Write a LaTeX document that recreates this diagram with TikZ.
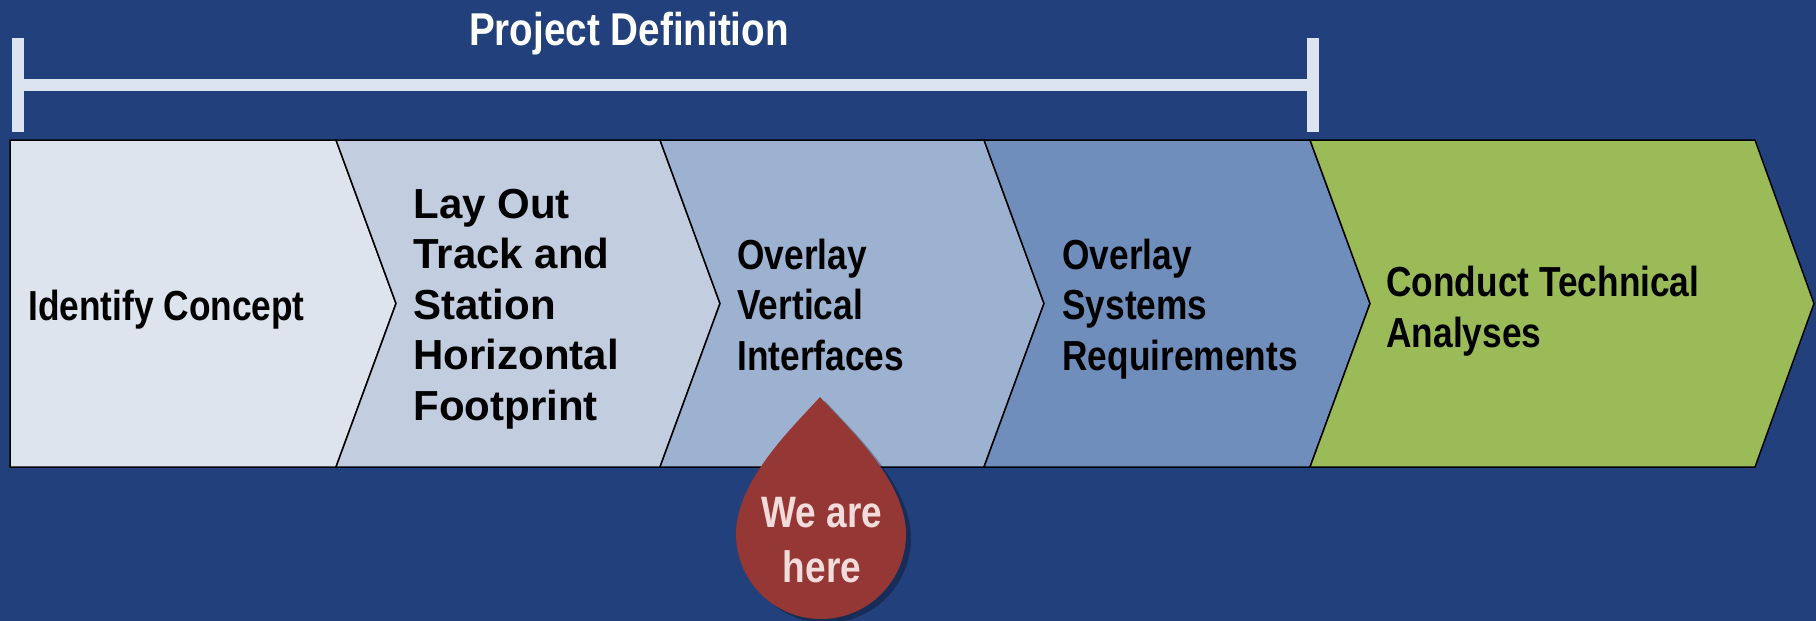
\documentclass[tikz,border=0pt]{standalone}
\usepackage{fontspec}
\setmainfont{Liberation Sans}[FakeStretch=0.84]
\newfontfamily\widesans{Liberation Sans}
\usetikzlibrary{shadows}
\definecolor{bg}{RGB}{34,64,124}
\definecolor{barc}{RGB}{220,228,240}
\definecolor{cA}{RGB}{221,228,238}
\definecolor{cB}{RGB}{194,205,224}
\definecolor{cC}{RGB}{157,177,208}
\definecolor{cD}{RGB}{111,142,187}
\definecolor{cE}{RGB}{155,187,89}
\definecolor{dropc}{RGB}{149,55,53}
\definecolor{droptxt}{RGB}{242,220,219}
\begin{document}
\begin{tikzpicture}[x=0.5pt,y=-0.5pt,
  chev/.style={draw=black, line width=0.75pt, line join=miter},
  lbl/.style={font=\bfseries\fontsize{21}{25.25}\selectfont, text=black, align=left, inner sep=0pt},
  widelbl/.style={lbl, font=\widesans\bfseries\fontsize{21}{25.25}\selectfont},
  barpart/.style={fill=barc}]
\fill[bg] (0,0) rectangle (1816,621);
\useasboundingbox (0,0) rectangle (1816,621);
% bracket
\fill[barpart] (12,38) rectangle (24,132);
\fill[barpart] (1307,38) rectangle (1319,132);
\fill[barpart] (24,79) rectangle (1307,91);
\node[font=\bfseries\fontsize{23}{28}\selectfont, text=white, anchor=base, inner sep=0pt] (title) at (629,45) {Project Definition};
% chevrons
\draw[chev, fill=cA] (10,140) -- (336,140) -- (396,303.5) -- (336,467) -- (10,467) -- cycle;
\draw[chev, fill=cB] (336,140) -- (660,140) -- (720,303.5) -- (660,467) -- (336,467) -- (396,303.5) -- cycle;
\draw[chev, fill=cC] (660,140) -- (984,140) -- (1044,303.5) -- (984,467) -- (660,467) -- (720,303.5) -- cycle;
\draw[chev, fill=cD] (984,140) -- (1310,140) -- (1370,303.5) -- (1310,467) -- (984,467) -- (1044,303.5) -- cycle;
\draw[chev, fill=cE] (1310,140) -- (1755,140) -- (1814,303.5) -- (1755,467) -- (1310,467) -- (1370,303.5) -- cycle;
% labels (base anchor = baseline of last line)
\node[lbl, anchor=base west] (s1) at (28,320) {Identify Concept};
\node[widelbl, anchor=base west] (s2) at (413,420) {Lay Out\\Track and\\Station\\Horizontal\\Footprint};
\node[lbl, anchor=base west] (s3) at (737,370) {Overlay\\Vertical\\Interfaces};
\node[lbl, anchor=base west] (s4) at (1062,370) {Overlay\\Systems\\Requirements};
\node[lbl, anchor=base west] (s5) at (1386,347) {Conduct Technical\\Analyses};
% teardrop marker
\fill[dropc, drop shadow={shadow xshift=2.5pt, shadow yshift=-2pt, opacity=0.3, fill=black}]
  (820,397) .. controls (795,425) and (736,480) .. (736,534)
  arc[start angle=180, end angle=360, radius=42.5pt]
  .. controls (906,480) and (845,425) .. (820,397) -- cycle;
\node[font=\bfseries\fontsize{22}{27.5}\selectfont, text=droptxt, align=center, inner sep=0pt, anchor=base] (here) at (822,582) {We are\\here};
\end{tikzpicture}
\end{document}
